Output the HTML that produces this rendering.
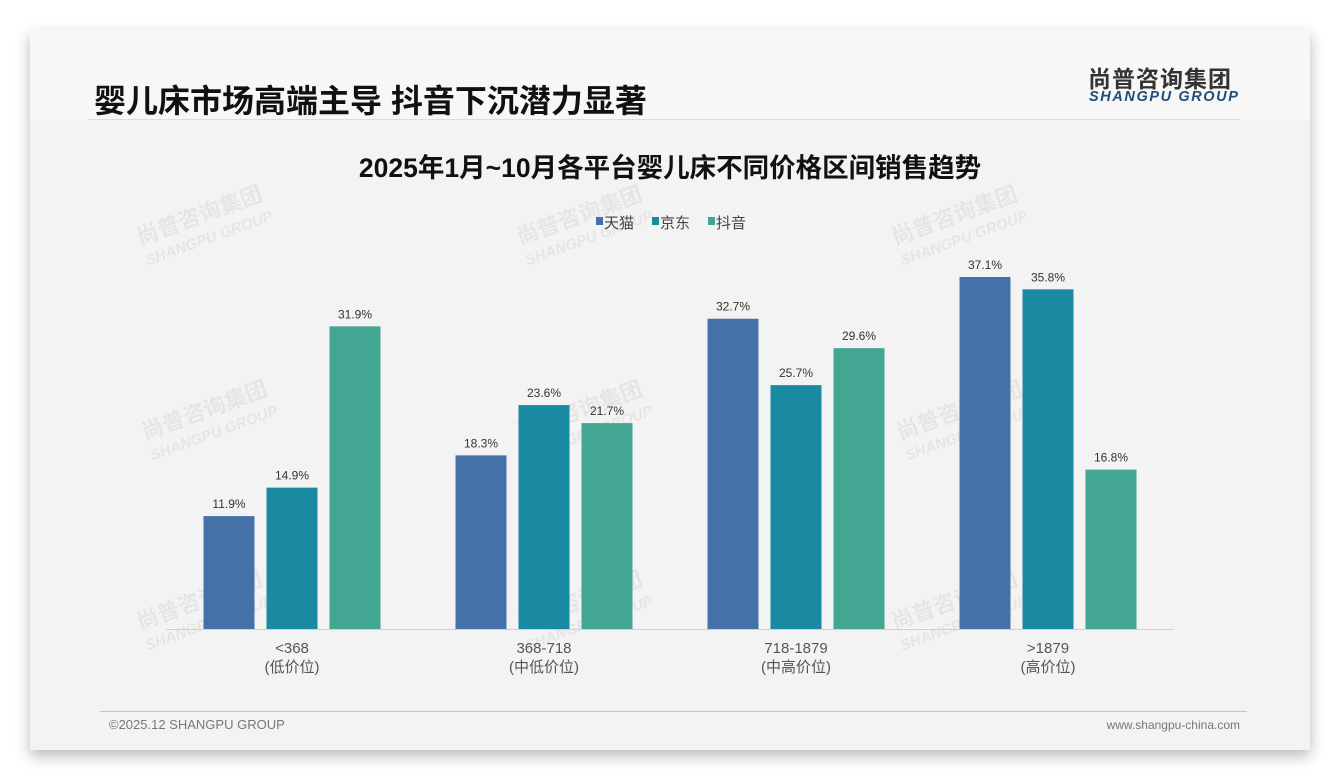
<!DOCTYPE html>
<html><head><meta charset="utf-8"><style>
body{margin:0;width:1340px;height:780px;background:#fff;position:relative;overflow:hidden;font-family:"Liberation Sans","Noto Sans CJK SC",sans-serif}
#card{position:absolute;left:30px;top:30px;width:1280px;height:720px;background:#f3f3f3;box-shadow:0 6px 14px rgba(0,0,0,.28)}
#hdr{position:absolute;left:0;top:0;width:1280px;height:90px;background:#f7f7f7}
.t{position:absolute;white-space:nowrap}
</style></head><body>
<div id="card">
<div id="hdr"></div>
<div class="t" style="left:64px;top:46px;font-size:32px;font-weight:bold;color:#111">婴儿床市场高端主导 抖音下沉潜力显著</div>
<div class="t" style="left:1058px;top:30px;font-size:23px;font-weight:bold;color:#333;letter-spacing:1px">尚普咨询集团</div>
<div class="t" style="left:1059px;top:59px;font-size:14.5px;font-weight:bold;font-style:italic;color:#1f4e79;letter-spacing:1.6px">SHANGPU GROUP</div>
<div style="position:absolute;left:57px;top:89px;width:1154px;height:1px;background:#dcdcdc"></div>
<div style="position:absolute;left:70px;top:681px;width:1147px;height:1px;background:#b8c8d8"></div>
<div class="t" style="left:79px;top:687px;font-size:13px;color:#777">©2025.12 SHANGPU GROUP</div>
<div class="t" style="right:70px;top:688px;font-size:12px;color:#777">www.shangpu-china.com</div>
</div>
<svg id="chart" width="1340" height="780" style="position:absolute;left:0;top:0"></svg>
<script>
const categories=["<368","368-718","718-1879",">1879"];
const subLabels=["(低价位)","(中低价位)","(中高价位)","(高价位)"];
const seriesNames=["天猫","京东","抖音"];
const tmall=[11.9,18.3,32.7,37.1];
const jd=[14.9,23.6,25.7,35.8];
const douyin=[31.9,21.7,29.6,16.8];
const series=[tmall,jd,douyin];
const colors=["#4472a8","#1a8aa0","#42a692"];
const NS="http://www.w3.org/2000/svg";
const svg=document.getElementById('chart');
function mk(tag,attrs,text){const e=document.createElementNS(NS,tag);for(const k in attrs)e.setAttribute(k,attrs[k]);if(text!==undefined)e.textContent=text;svg.appendChild(e);return e;}
const baseY=629,pxPer=352/37.1,x0=166,bandW=252,barW=51,gap=63;
function yScale(v){return baseY-v*pxPer;}
function xCenter(i){return x0+bandW*(i+0.5);}
const wm=[[140,245],[520,245],[895,245],[145,440],[520,440],[900,440],[140,630],[520,630],[895,630]];
wm.forEach(p=>{const g=document.createElementNS(NS,'g');g.setAttribute('transform',`translate(${p[0]},${p[1]}) rotate(-20)`);g.setAttribute('opacity','0.05');


const a=document.createElementNS(NS,'text');a.setAttribute('font-size','22');a.setAttribute('font-weight','bold');a.textContent='尚普咨询集团';g.appendChild(a);
const b=document.createElementNS(NS,'text');b.setAttribute('y','22');b.setAttribute('font-size','15');b.setAttribute('font-weight','bold');b.setAttribute('font-style','italic');b.textContent='SHANGPU GROUP';g.appendChild(b);svg.appendChild(g);});
let t=mk('text',{x:670,y:177,'text-anchor':'middle','font-size':26.5,'font-weight':'bold',fill:'#111'},'2025年1月~10月各平台婴儿床不同价格区间销售趋势');


const lx=[596,652,708];
seriesNames.forEach((n,i)=>{const r=mk('rect',{x:lx[i],y:217,width:7,height:8,fill:colors[i]});


const tx=mk('text',{x:lx[i]+8,y:228,'font-size':15,fill:'#444'},n);

});
let ax=mk('line',{x1:x0,y1:baseY+0.5,x2:x0+bandW*4,y2:baseY+0.5,stroke:'#d0d0d0','stroke-width':1});


categories.forEach((c,i)=>{const cx=xCenter(i);
series.forEach((s,j)=>{const bx=cx+(j-1)*gap-barW/2;const y=yScale(s[i]);
const r=mk('rect',{x:bx,y:y,width:barW,height:baseY-y,fill:colors[j]});


const l=mk('text',{x:bx+barW/2,y:y-8,'text-anchor':'middle','font-size':12,fill:'#333'},s[i].toFixed(1)+'%');

});
const a=mk('text',{x:cx,y:653,'text-anchor':'middle','font-size':15,fill:'#555'},c);


const b=mk('text',{x:cx,y:672,'text-anchor':'middle','font-size':15,fill:'#555'},subLabels[i]);

});
</script>
</body></html>
